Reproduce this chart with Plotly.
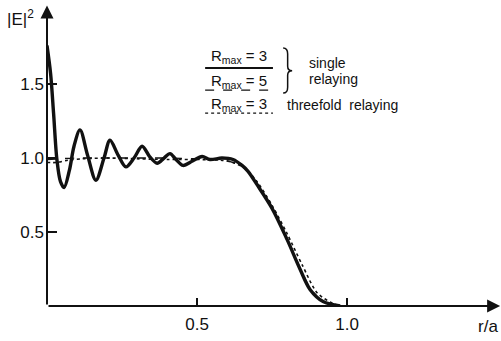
import plotly.graph_objects as go

# ---- data ----
r_single3 = [0.0, 0.012, 0.022, 0.033, 0.045, 0.057, 0.075, 0.09, 0.11, 0.135, 0.163, 0.19, 0.21,
             0.237, 0.263, 0.29, 0.317, 0.342, 0.367, 0.39, 0.41, 0.43, 0.453, 0.485, 0.517, 0.543,
             0.583, 0.62, 0.65, 0.67, 0.70, 0.75, 0.80, 0.843, 0.877, 0.92, 0.977]
E_single3 = [1.76, 1.57, 1.30, 0.99, 0.84, 0.80, 0.92, 1.08, 1.19, 1.02, 0.85, 1.0, 1.12,
             1.02, 0.94, 1.0, 1.08, 1.01, 0.965, 1.0, 1.03, 0.99, 0.95, 0.98, 1.01, 0.99,
             1.0, 0.99, 0.95, 0.91, 0.82, 0.66, 0.45, 0.25, 0.11, 0.03, 0.0]

r_single5 = [0.0, 0.1, 0.2, 0.3, 0.4, 0.5, 0.58, 0.62, 0.66, 0.70, 0.75, 0.80, 0.843, 0.877, 0.92, 0.977]
E_single5 = [0.99, 1.0, 1.0, 1.0, 1.0, 0.995, 0.99, 0.97, 0.93, 0.83, 0.66, 0.46, 0.26, 0.12, 0.03, 0.0]

r_three3 = [0.0, 0.03, 0.07, 0.12, 0.2, 0.3, 0.4, 0.5, 0.58, 0.62, 0.66, 0.70, 0.75, 0.80, 0.85, 0.90, 0.95, 0.98]
E_three3 = [0.97, 0.97, 0.985, 0.995, 1.0, 0.995, 0.99, 0.99, 0.985, 0.97, 0.93, 0.84, 0.68, 0.49, 0.28, 0.09, 0.02, 0.0]

x_ticks = [0.5, 1.0]
x_ticktext = ["0.5", "1.0"]
y_ticks = [0.5, 1.0, 1.5]
y_ticktext = ["0.5", "1.0", "1.5"]

legend_labels = ["R<sub>max</sub> = 3", "R<sub>max</sub> = 5", "R<sub>max</sub> = 3"]

FONT = "Liberation Sans"
TXT = "Liberation Sans"
ink = "#111111"

fig = go.Figure()
fig.add_trace(go.Scatter(x=r_single5, y=E_single5, mode="lines",
                         line=dict(color=ink, width=1.4, dash="dash", shape="spline", smoothing=0.8)))
fig.add_trace(go.Scatter(x=r_three3, y=E_three3, mode="lines",
                         line=dict(color=ink, width=1.6, dash="dot", shape="spline", smoothing=0.8)))
fig.add_trace(go.Scatter(x=r_single3, y=E_single3, mode="lines",
                         line=dict(color=ink, width=3.4, shape="spline", smoothing=0.9)))

# axes arrows
fig.add_annotation(x=0, y=2.03, ax=0, ay=0, xref="x", yref="y", axref="x", ayref="y",
                   showarrow=True, arrowhead=2, arrowsize=1.3, arrowwidth=2, arrowcolor=ink, text="")
fig.add_annotation(x=1.51, y=0, ax=0, ay=0, xref="x", yref="y", axref="x", ayref="y",
                   showarrow=True, arrowhead=2, arrowsize=1.3, arrowwidth=2, arrowcolor=ink, text="")

# axis titles (paper coords so they are not hidden outside the axis range)
fig.add_annotation(x=-0.092, y=0.985, xref="paper", yref="paper", text="|E|<sup>2</sup>", showarrow=False,
                   xanchor="left", yanchor="top", font=dict(family=FONT, size=17, color=ink))
fig.add_annotation(x=0.998, y=-0.03, xref="paper", yref="paper", text="r/a", showarrow=False,
                   xanchor="right", yanchor="top", font=dict(family=FONT, size=17, color=ink))

# legend (hand-drawn style)
lx0, lx1 = 0.527, 0.753
rows = [(1.685, 1.608, "solid"), (1.517, 1.459, "dash"), (1.361, 1.304, "dot")]
for (ty, ly, dash), lab in zip(rows, legend_labels):
    fig.add_annotation(x=(lx0 + lx1) / 2, y=ty, xref="x", yref="y", text=lab, showarrow=False,
                       font=dict(family=TXT, size=15, color=ink))
    fig.add_shape(type="line", x0=lx0, x1=lx1, y0=ly, y1=ly, xref="x", yref="y",
                  line=dict(color=ink, width=2 if dash == "solid" else 1.3, dash=dash))

# brace
bx0, bx1, bt, bb, bm = 0.787, 0.817, 1.743, 1.439, 1.59
bxm = (bx0 + bx1) / 2
brace = (f"M {bx0},{bt} Q {bxm},{bt} {bxm},{bt-0.04} L {bxm},{bm+0.03} "
         f"Q {bxm},{bm} {bx1},{bm} Q {bxm},{bm} {bxm},{bm-0.03} "
         f"L {bxm},{bb+0.04} Q {bxm},{bb} {bx0},{bb}")
fig.add_shape(type="path", path=brace, xref="x", yref="y", line=dict(color=ink, width=1.5))

fig.add_annotation(x=0.867, y=1.642, xref="x", yref="y", text="single", showarrow=False,
                   xanchor="left", font=dict(family=TXT, size=14, color=ink))
fig.add_annotation(x=0.867, y=1.534, xref="x", yref="y", text="relaying", showarrow=False,
                   xanchor="left", font=dict(family=TXT, size=14, color=ink))
fig.add_annotation(x=0.793, y=1.358, xref="x", yref="y", text="threefold  relaying", showarrow=False,
                   xanchor="left", font=dict(family=TXT, size=14, color=ink))

fig.update_layout(
    width=501, height=341, margin=dict(l=47, r=0, t=0, b=35),
    paper_bgcolor="white", plot_bgcolor="white", showlegend=False,
    xaxis=dict(range=[0, 1.513], showgrid=False, zeroline=False, showline=False,
               tickvals=x_ticks, ticktext=x_ticktext, ticks="inside", ticklen=8, tickwidth=2,
               tickcolor=ink, tickfont=dict(family=FONT, size=17, color=ink), ticklabelstandoff=6),
    yaxis=dict(range=[0, 2.068], showgrid=False, zeroline=False, showline=False,
               tickvals=y_ticks, ticktext=y_ticktext, ticks="inside", ticklen=10, tickwidth=2,
               tickcolor=ink, tickfont=dict(family=FONT, size=17, color=ink), ticklabelstandoff=2),
)
fig.write_html("out.html")
